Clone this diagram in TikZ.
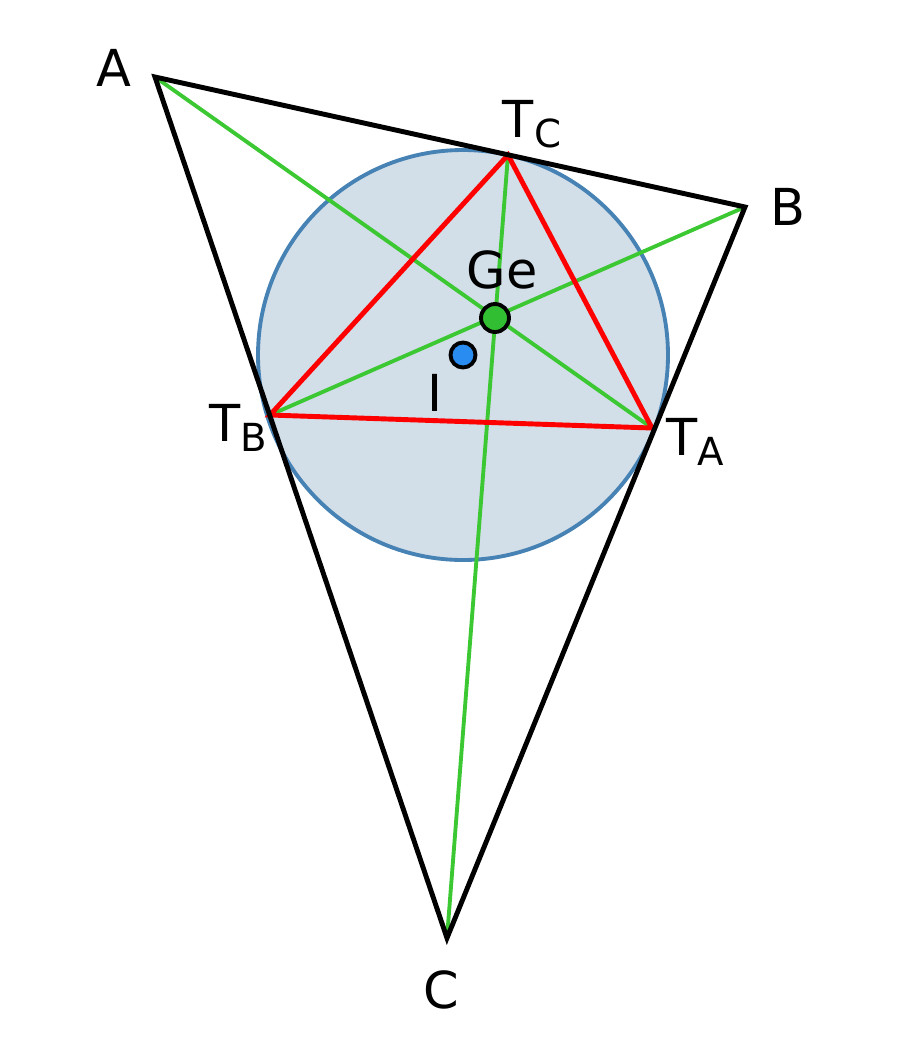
\documentclass[tikz,border=0pt]{standalone}
\usepackage{fontspec}
\setmainfont{DejaVu Sans}
\usetikzlibrary{positioning}
\definecolor{cevgreen}{RGB}{60,200,50}
\definecolor{rimblue}{RGB}{70,130,180}
\definecolor{diskblue}{RGB}{210,222,232}
\definecolor{gedot}{RGB}{50,190,50}
\definecolor{idot}{RGB}{40,140,240}
\newcommand{\lbl}[2]{#1\raisebox{-0.35ex}{\fontsize{22}{24}\selectfont #2}}
\begin{document}
\begin{tikzpicture}[x=0.02cm,y=-0.02cm,
    side/.style = {line width=2.8pt,black},
    cevian/.style = {line width=2.2pt,cevgreen},
    contact/.style = {line width=2.8pt,red},
    pt/.style = {circle,draw=black,line width=2.2pt,inner sep=0pt,minimum size=0.56cm},
    lab/.style = {font=\fontsize{29}{32}\selectfont,inner sep=0pt}
]
   \useasboundingbox (0,0) rectangle (900,1049);
   \coordinate (A) at (155,77);
   \coordinate (B) at (745,207);
   \coordinate (C) at (447,938);
   \coordinate (TC) at (508,155);
   \coordinate (TB) at (270,415);
   \coordinate (TA) at (652,428);
   \coordinate (I) at (463,355);

   % incircle
   \fill[diskblue] (I) circle (205);
   \draw[line width=2.2pt,rimblue] (I) circle (205);

   % cevians through Ge
   \draw[cevian] (A) -- (TA);
   \draw[cevian] (B) -- (TB);
   \draw[cevian] (C) -- (TC);

   % contact triangle
   \draw[contact] (TA) -- (TB) -- (TC) -- cycle;

   % triangle
   \draw[side,line join=miter] (A) -- (B) -- (C) -- cycle;

   \node[pt,fill=gedot] (Ge) at (495,318) {};
   \node[pt,fill=idot,minimum size=0.5cm] (Idot) at (I) {};

   % labels
   \node[lab] (la) at (114,68) {A};
   \node[lab] (lb) at (788,207) {B};
   \node[lab] (lc) at (441,990) {C};
   \node[lab] (ltc) at (532,124) {\lbl{T}{C}};
   \node[lab] (ltb) at (238,428) {\lbl{T}{B}};
   \node[lab] (lta) at (695,442) {\lbl{T}{A}};
   \node[lab] (lge) at (502,270) {Ge};
   \node[lab] (li) at (435,393) {I};
\end{tikzpicture}
\end{document}
